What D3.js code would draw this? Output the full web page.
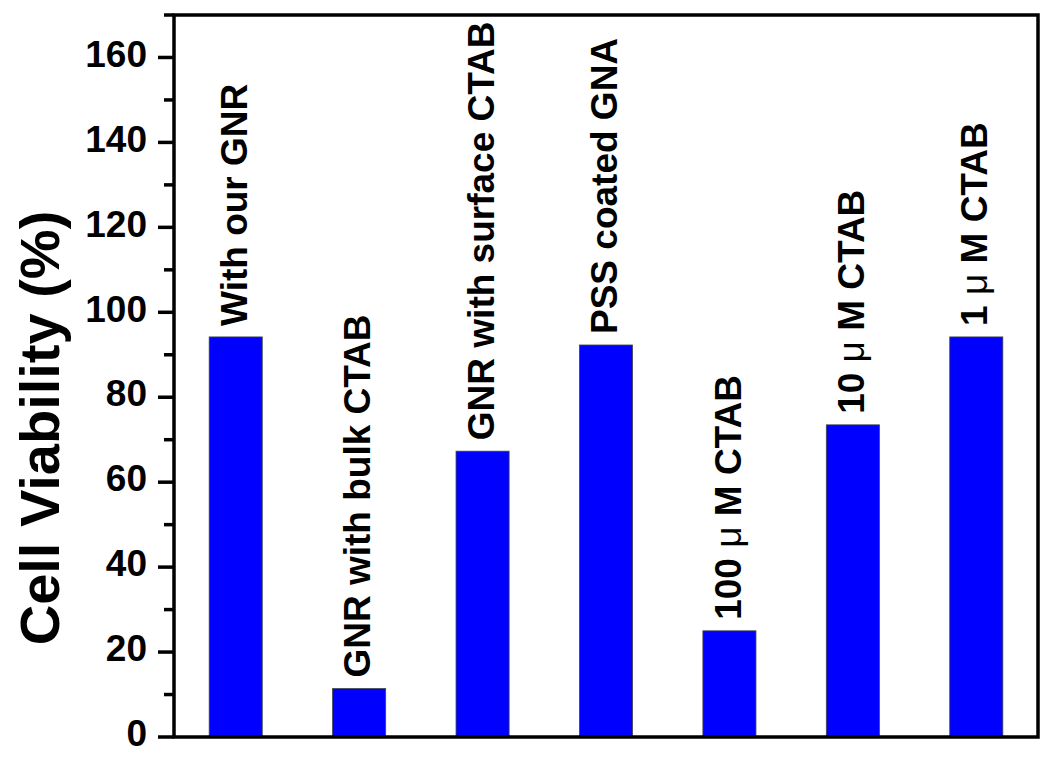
<!DOCTYPE html>
<html>
<head>
<meta charset="utf-8">
<script src="https://cdn.jsdelivr.net/npm/d3@7"></script>
<style>
  html, body { margin: 0; padding: 0; background: #fff; }
  svg { display: block; }
  text { font-family: "Liberation Sans", Arial, sans-serif; }
</style>
</head>
<body>
<svg id="chart" width="1050" height="767"></svg>
<script>
const categories = ["With our GNR", "GNR with bulk CTAB", "GNR with surface CTAB", "PSS coated GNA", "100 μ M CTAB", "10 μ M CTAB", "1 μ M CTAB"];
const viability = [94.2, 11.4, 67.3, 92.3, 25.0, 73.5, 94.2];
const majorTicks = [0, 20, 40, 60, 80, 100, 120, 140, 160];
const minorTicks = [10, 30, 50, 70, 90, 110, 130, 150, 170];
const yTitle = "Cell Viability (%)";

const svg = d3.select("#chart");
const mLeft = 174, mRight = 1038, mTop = 15, mBottom = 737;

const x = d3.scaleBand().domain(categories).range([mLeft, mRight])
  .paddingInner(0.57).paddingOuter(0.285);
const y = d3.scaleLinear().domain([0, 170]).range([mBottom, mTop]);

// bars
svg.append("g").selectAll("rect").data(categories).join("rect")
  .attr("x", d => x(d))
  .attr("width", x.bandwidth())
  .attr("y", (d, i) => y(viability[i]))
  .attr("height", (d, i) => y(0) - y(viability[i]))
  .attr("fill", "#0000ff")
  .attr("stroke", "#444")
  .attr("stroke-width", 0.8);

// bar labels
const lab = svg.append("g").selectAll("text").data(categories).join("text")
  .attr("transform", (d, i) => `translate(${x(d) + x.bandwidth() / 2},${y(viability[i]) - 11}) rotate(-90)`)
  .attr("dy", "0.3em")
  .attr("font-size", 37)
  .attr("font-weight", "bold")
  .attr("fill", "#000");
lab.each(function(d) {
  const t = d3.select(this);
  const parts = d.split("μ");
  parts.forEach((p, k) => {
    if (k > 0) t.append("tspan").attr("font-weight", "normal").text("μ");
    t.append("tspan").text(p);
  });
});

// frame
svg.append("rect")
  .attr("x", mLeft).attr("y", mTop)
  .attr("width", mRight - mLeft).attr("height", mBottom - mTop)
  .attr("fill", "none").attr("stroke", "#000").attr("stroke-width", 3.5);

// y axis ticks
const ax = svg.append("g");
ax.selectAll("line.major").data(majorTicks).join("line")
  .attr("class", "major")
  .attr("x1", mLeft - 16).attr("x2", mLeft)
  .attr("y1", d => y(d)).attr("y2", d => y(d))
  .attr("stroke", "#000").attr("stroke-width", 3.5);
ax.selectAll("line.minor").data(minorTicks).join("line")
  .attr("class", "minor")
  .attr("x1", mLeft - 10).attr("x2", mLeft)
  .attr("y1", d => y(d)).attr("y2", d => y(d))
  .attr("stroke", "#000").attr("stroke-width", 3.5);
ax.selectAll("text").data(majorTicks).join("text")
  .attr("x", mLeft - 27)
  .attr("y", d => y(d))
  .attr("dy", "0.25em")
  .attr("text-anchor", "end")
  .attr("font-size", 37)
  .attr("font-weight", "bold")
  .text(d => d);

// y title
svg.append("text")
  .attr("transform", `translate(59,428) rotate(-90)`)
  .attr("text-anchor", "middle")
  .attr("font-size", 56)
  .attr("font-weight", "bold")
  .text(yTitle);
</script>
</body>
</html>
